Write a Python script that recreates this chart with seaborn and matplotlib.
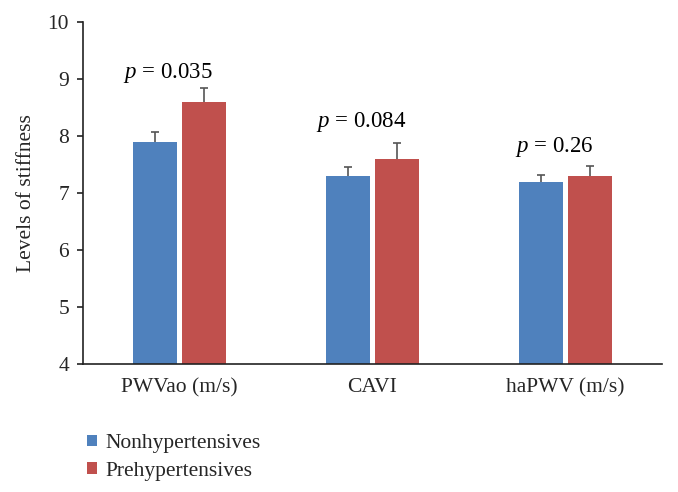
import matplotlib
matplotlib.use("Agg")
import matplotlib.pyplot as plt
import seaborn as sns
import pandas as pd

categories = ["PWVao (m/s)", "CAVI", "haPWV (m/s)"]
groups = ["Nonhypertensives", "Prehypertensives"]
non_values = [7.9, 7.3, 7.2]
pre_values = [8.6, 7.6, 7.3]
non_err = [0.17, 0.16, 0.11]
pre_err = [0.24, 0.27, 0.18]
p_labels = ["0.035", "0.084", "0.26"]
p_heights = [9.02, 8.16, 7.72]

df = pd.DataFrame({
    "category": categories * 2,
    "group": [groups[0]] * 3 + [groups[1]] * 3,
    "value": non_values + pre_values,
})

sns.set_theme(style="white")
plt.rcParams["font.family"] = ["Liberation Serif", "DejaVu Serif"]
plt.rcParams["mathtext.fontset"] = "custom"
plt.rcParams["mathtext.it"] = "Liberation Serif:italic"
plt.rcParams["mathtext.rm"] = "Liberation Serif"

FS = 15.5

fig = plt.figure(figsize=(6.78, 4.92), dpi=100)
ax = fig.add_axes([0.1224, 0.2602, 0.8540, 0.6951])

colors = ["#4F81BD", "#C0504D"]
sns.barplot(data=df, x="category", y="value", hue="group", order=categories,
            hue_order=groups, palette=colors, width=0.51, gap=0.11,
            errorbar=None, ax=ax, saturation=1, linewidth=0)

# error bars (upper only) at bar centers
errs = [non_err, pre_err]
bar_containers = list(ax.containers)
for gi, cont in enumerate(bar_containers):
    xs = [p.get_x() + p.get_width() / 2 for p in cont.patches]
    ys = [p.get_height() for p in cont.patches]
    e = errs[gi]
    eb = ax.errorbar(xs, ys, yerr=[[0] * len(e), e], fmt="none", ecolor="#555555",
                     elinewidth=1.2, capsize=3.2, capthick=1.2, zorder=3)
    caps = eb.lines[1]
    if len(caps) >= 2:
        caps[0].set_visible(False)

ax.set_ylim(4, 10)
ax.set_yticks([4, 5, 6, 7, 8, 9, 10])
ax.set_xlim(-0.5, 2.5)
ax.set_xlabel("")
ax.set_ylabel("Levels of stiffness", fontsize=FS, labelpad=8)
ax.tick_params(axis="y", which="major", left=True, length=4, width=1.2,
               color="#222222", labelsize=FS, pad=6, direction="out")
ax.tick_params(axis="x", bottom=False, labelsize=FS, pad=4)
for s in ["top", "right"]:
    ax.spines[s].set_visible(False)
for s in ["left", "bottom"]:
    ax.spines[s].set_color("#222222")
    ax.spines[s].set_linewidth(1.2)

for i, (lab, h) in enumerate(zip(p_labels, p_heights)):
    ax.text(i - 0.06, h, r"$p$ = " + lab, ha="center", va="baseline",
            fontsize=16.5, color="black")

leg = ax.get_legend()
handles = leg.legend_handles
leg.remove()
fig.legend(handles, groups, loc="upper left", bbox_to_anchor=(0.116, 0.135),
           frameon=False, fontsize=FS, handlelength=0.45, handleheight=0.45,
           handletextpad=0.4, labelspacing=0.4, borderaxespad=0)

fig.savefig("out.png", dpi=100)
